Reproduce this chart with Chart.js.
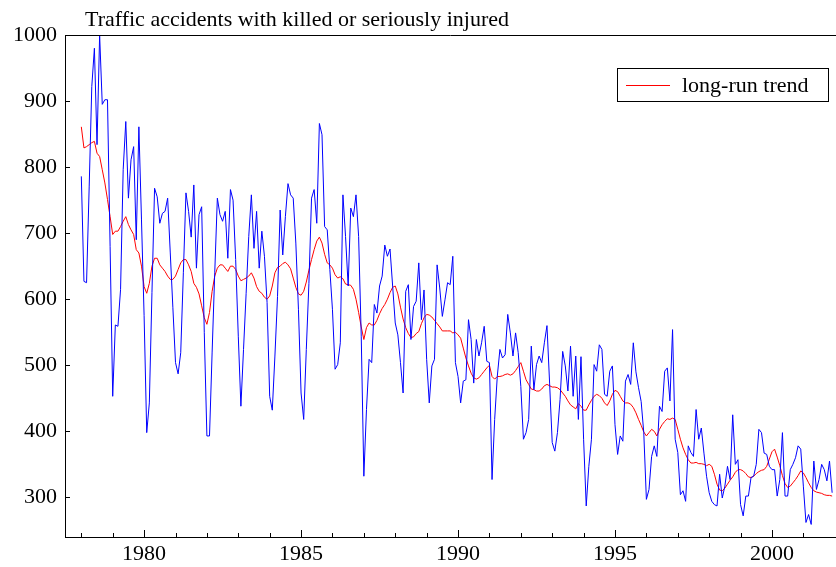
<!DOCTYPE html>
<html>
<head>
<meta charset="utf-8">
<script src="https://cdn.jsdelivr.net/npm/chart.js@4.4.1/dist/chart.umd.min.js"></script>
<style>
  html, body { margin: 0; padding: 0; background: #fff; }
  #wrap { width: 836px; height: 567px; }
</style>
</head>
<body>
<div id="wrap"><canvas id="chart" width="836" height="567"></canvas></div>
<script>
// --- data (monthly, Jan 1978 .. Dec 2001) ---
const startYear = 1978;
const titleText = 'Traffic accidents with killed or seriously injured';
const trendLabel = 'long-run trend';

// one row per year, Jan..Dec
const accidents = [
    786, 627, 625, 770, 922, 980, 834, 1000, 895, 902, 902, 680,
    453, 561, 559, 615, 796, 869, 753, 811, 831, 690, 861, 720,
    575, 398, 443, 610, 768, 755, 715, 730, 733, 753, 670, 587,
    504, 487, 519, 640, 761, 733, 694, 773, 647, 728, 740, 550,
    393, 393, 520, 640, 753, 728, 718, 733, 662, 766, 750, 660,
    544, 438, 524, 609, 695, 758, 677, 733, 647, 703, 665, 595,
    453, 432, 514, 604, 735, 667, 725, 775, 758, 753, 685, 584,
    458, 418, 524, 624, 753, 766, 715, 866, 849, 710, 705, 645,
    584, 494, 501, 534, 758, 695, 620, 738, 725, 758, 695, 544,
    332, 433, 509, 504, 592, 579, 620, 635, 682, 665, 676, 620,
    564, 546, 504, 458, 612, 622, 539, 589, 597, 655, 569, 614,
    509, 443, 499, 509, 652, 617, 574, 599, 625, 622, 665, 504,
    483, 443, 476, 478, 569, 539, 473, 539, 514, 534, 559, 506,
    504, 327, 418, 483, 524, 511, 516, 577, 549, 514, 549, 519,
    468, 388, 398, 418, 529, 463, 501, 514, 504, 534, 560, 473,
    383, 370, 398, 448, 521, 499, 461, 529, 453, 514, 418, 513,
    388, 287, 347, 388, 501, 491, 531, 524, 456, 453, 491, 499,
    410, 365, 393, 385, 476, 486, 471, 534, 490, 466, 445, 398,
    297, 312, 362, 378, 362, 438, 430, 491, 496, 446, 554, 388,
    368, 304, 310, 294, 378, 368, 362, 433, 388, 405, 367, 332,
    307, 294, 289, 287, 335, 299, 317, 347, 327, 425, 350, 357,
    289, 272, 302, 302, 330, 332, 350, 403, 398, 367, 365, 347,
    342, 342, 302, 327, 398, 302, 302, 342, 350, 360, 378, 373,
    317, 262, 274, 259, 355, 312, 327, 350, 342, 325, 355, 307
];

const trend = [
    861, 829, 831, 834, 837, 839, 821, 816, 796, 776, 751, 725,
    698, 703, 703, 710, 718, 725, 713, 705, 698, 675, 670, 650,
    619, 609, 624, 650, 662, 662, 652, 647, 642, 635, 630, 630,
    635, 645, 655, 660, 660, 652, 642, 624, 618, 608, 590, 572,
    562, 580, 612, 635, 647, 652, 652, 647, 642, 650, 650, 645,
    635, 628, 630, 632, 635, 640, 632, 619, 612, 609, 603, 600,
    605, 620, 640, 648, 650, 654, 656, 652, 646, 632, 618, 608,
    606, 612, 626, 644, 660, 675, 688, 694, 685, 668, 655, 652,
    647, 637, 632, 634, 631, 623, 622, 621, 615, 600, 580, 558,
    539, 557, 564, 561, 561, 568, 578, 586, 592, 600, 610, 618,
    620, 608, 588, 570, 557, 548, 542, 543, 548, 551, 563, 572,
    577, 576, 573, 568, 563, 558, 552, 552, 552, 552, 549, 550,
    546, 541, 526, 511, 499, 488, 481, 479, 481, 486, 491, 496,
    500, 483, 479, 483, 483, 484, 486, 487, 485, 487, 492, 498,
    504, 491, 478, 471, 464, 463, 461, 461, 464, 469, 471, 469,
    467, 467, 466, 463, 458, 453, 446, 440, 437, 434, 442, 438,
    432, 432, 440, 447, 453, 456, 454, 450, 443, 439, 446, 456,
    462, 460, 453, 446, 443, 443, 441, 436, 428, 418, 409, 399,
    393, 398, 403, 400, 393, 403, 410, 415, 419, 418, 420, 418,
    403, 388, 375, 365, 357, 352, 352, 353, 351, 351, 350, 348,
    350, 347, 335, 320, 311, 310, 314, 320, 326, 331, 338, 342,
    342, 340, 336, 331, 330, 332, 336, 339, 341, 342, 347, 358,
    369, 373, 361, 348, 333, 321, 315, 317, 322, 327, 333, 340,
    337, 330, 322, 315, 310, 308, 307, 306, 304, 303, 303, 302
];

const yTicks = [300, 400, 500, 600, 700, 800, 900, 1000];
const xLabelYears = [1980, 1985, 1990, 1995, 2000];

const FONT = "'Liberation Serif', 'Times New Roman', serif";

// monthly points at year + (month-1)/12
const toPoints = arr => arr.map((v, i) => ({ x: startYear + i / 12, y: v }));

// --- 自訂繪製: 標題, 圖例, 內側刻度, 上框線 ---
const decorPlugin = {
    id: 'decor',
    afterDraw(chart) {
        const { ctx, chartArea, scales } = chart;
        ctx.save();
        ctx.strokeStyle = '#000';
        ctx.lineWidth = 1;

        // top frame line
        ctx.beginPath();
        ctx.moveTo(chartArea.left, chartArea.top + 0.5);
        ctx.lineTo(chartArea.right, chartArea.top + 0.5);
        ctx.stroke();

        // inward year ticks
        ctx.beginPath();
        for (let yr = startYear; yr <= 2001; yr++) {
            const px = Math.round(scales.x.getPixelForValue(yr)) + 0.5;
            const len = yr % 5 === 0 ? 7 : 4;
            ctx.moveTo(px, chartArea.bottom);
            ctx.lineTo(px, chartArea.bottom - len);
        }
        // inward value ticks
        yTicks.forEach(v => {
            const py = Math.round(scales.y.getPixelForValue(v)) + 0.5;
            ctx.moveTo(chartArea.left, py);
            ctx.lineTo(chartArea.left + 5, py);
        });
        ctx.stroke();

        // title
        ctx.fillStyle = '#000';
        ctx.font = '22px ' + FONT;
        ctx.textAlign = 'left';
        ctx.textBaseline = 'middle';
        ctx.fillText(titleText, 85, 20);

        // legend box
        const bx = 617, by = 68, bw = 211, bh = 33;
        ctx.fillStyle = '#fff';
        ctx.fillRect(bx, by, bw, bh);
        ctx.strokeRect(bx + 0.5, by + 0.5, bw, bh);
        ctx.strokeStyle = '#ff0000';
        ctx.beginPath();
        ctx.moveTo(626, by + 17.5);
        ctx.lineTo(670, by + 17.5);
        ctx.stroke();
        ctx.fillStyle = '#000';
        ctx.fillText(trendLabel, 682, by + 18);
        ctx.restore();
    }
};

new Chart(document.getElementById('chart'), {
    type: 'line',
    data: {
        datasets: [{
            label: 'accidents',
            data: toPoints(accidents),
            borderColor: '#0000ff',
            borderWidth: 1,
            pointRadius: 0,
            tension: 0
        }, {
            label: trendLabel,
            data: toPoints(trend),
            borderColor: '#ff0000',
            borderWidth: 1,
            pointRadius: 0,
            tension: 0
        }]
    },
    options: {
        responsive: false,
        devicePixelRatio: 1,
        animation: false,
        layout: { padding: { top: 35, right: 0, left: 0, bottom: 0 } },
        plugins: {
            legend: { display: false },
            title: { display: false },
            tooltip: { enabled: false }
        },
        scales: {
            x: {
                type: 'linear',
                min: 1977.48,
                max: 2002.04,
                grid: { display: false, drawTicks: false },
                border: { display: true, color: '#000', width: 1 },
                afterBuildTicks: s => { s.ticks = xLabelYears.map(v => ({ value: v })); },
                afterFit: s => { s.height = 30; },
                ticks: {
                    color: '#000',
                    font: { family: FONT, size: 22 },
                    maxRotation: 0,
                    padding: 4,
                    callback: v => String(v)
                }
            },
            y: {
                min: 240,
                max: 1000,
                grid: { display: false, drawTicks: false },
                border: { display: true, color: '#000', width: 1 },
                afterBuildTicks: s => { s.ticks = yTicks.map(v => ({ value: v })); },
                afterFit: s => { s.width = 65; },
                ticks: {
                    color: '#000',
                    font: { family: FONT, size: 22 },
                    padding: 8,
                    callback: v => String(v)
                }
            }
        }
    },
    plugins: [decorPlugin]
});
</script>
</body>
</html>
